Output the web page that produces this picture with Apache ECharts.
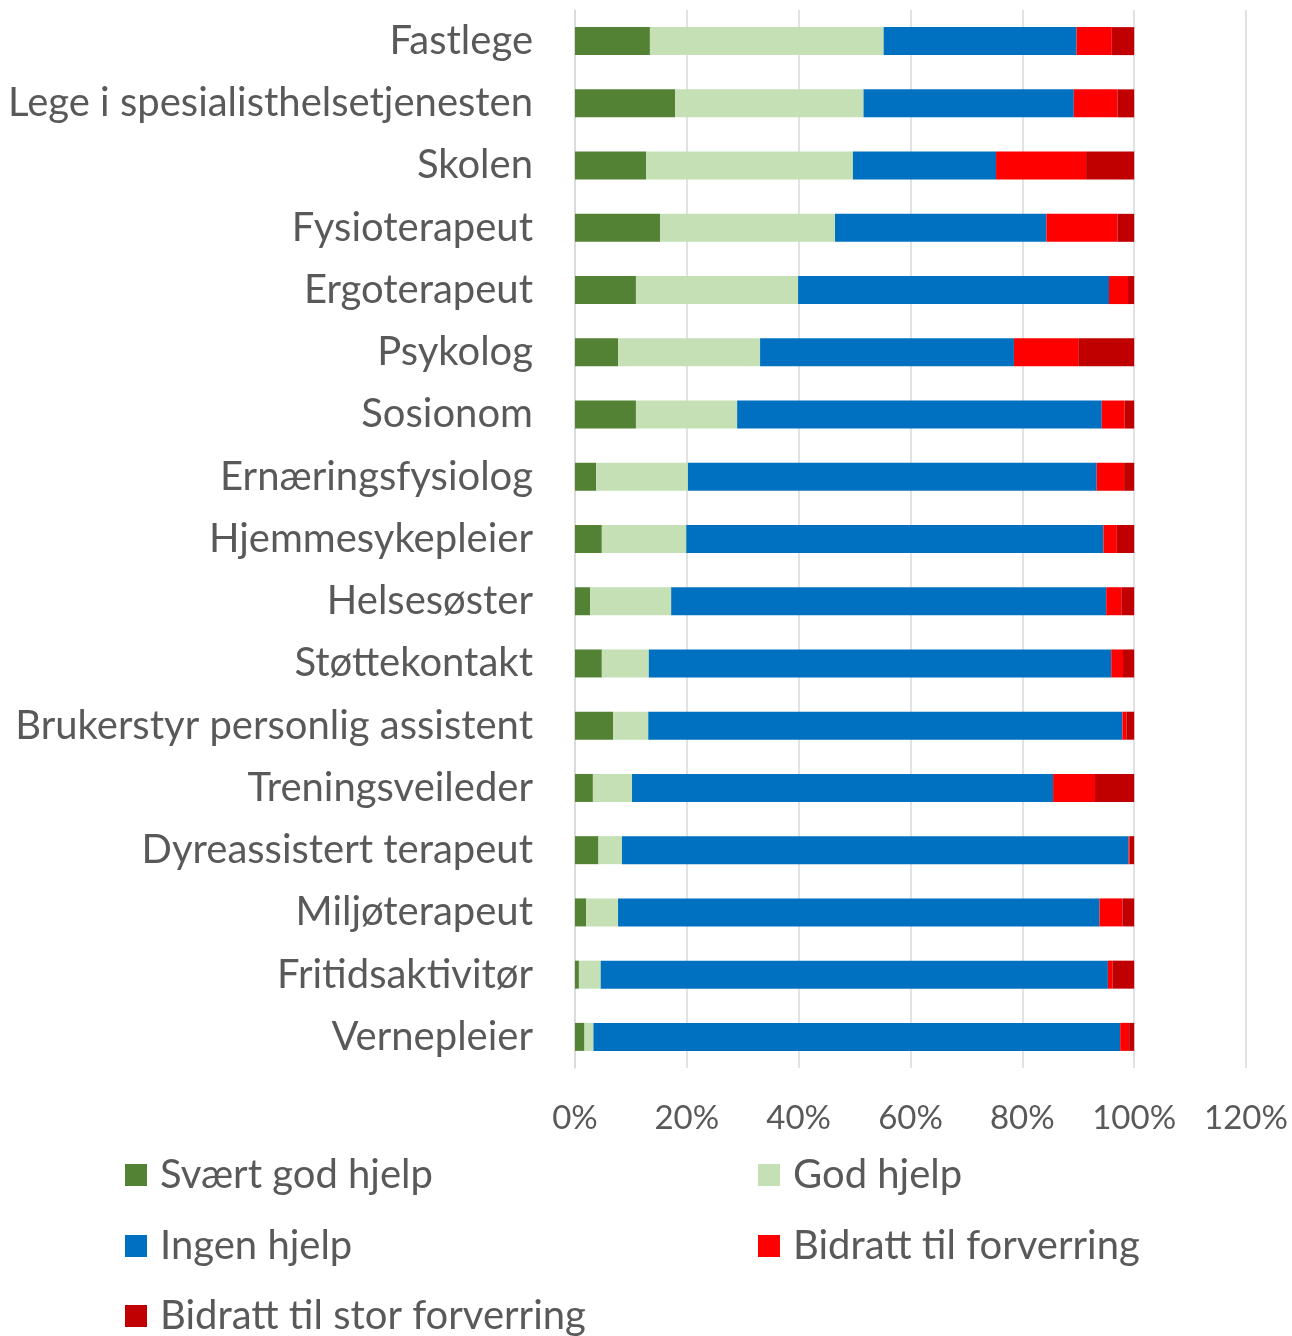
<!DOCTYPE html>
<html>
<head>
<meta charset="utf-8">
<script src="https://cdn.jsdelivr.net/npm/echarts@6/dist/echarts.min.js"></script>
<style>
html,body{margin:0;padding:0;background:#fff;}
#chart{width:1292px;height:1336px;}
</style>
</head>
<body>
<div id="chart"></div>
<script>
const categories = ["Fastlege","Lege i spesialisthelsetjenesten","Skolen","Fysioterapeut","Ergoterapeut","Psykolog","Sosionom","Ernæringsfysiolog","Hjemmesykepleier","Helsesøster","Støttekontakt","Brukerstyr personlig assistent","Treningsveileder","Dyreassistert terapeut","Miljøterapeut","Fritidsaktivitør","Vernepleier"];
const seriesNames = ["Svært god hjelp","God hjelp","Ingen hjelp","Bidratt til forverring","Bidratt til stor forverring"];
const svaertGod = [13.4,17.9,12.7,15.2,10.9,7.7,10.9,3.8,4.8,2.7,4.8,6.8,3.2,4.2,2.0,0.7,1.7];
const god       = [41.8,33.7,37.0,31.3,29.0,25.4,18.1,16.4,15.1,14.5,8.4,6.3,7.0,4.2,5.7,3.9,1.6];
const ingen     = [34.5,37.6,25.6,37.8,55.6,45.4,65.2,73.1,74.6,77.8,82.7,84.8,75.3,90.6,86.1,90.7,94.2];
const forverring= [6.3,7.8,16.1,12.7,3.4,11.5,4.1,4.9,2.4,2.7,2.1,0.7,7.5,0.2,4.1,0.8,1.6];
const storForv  = [4.0,3.0,8.6,3.0,1.1,10.0,1.7,1.8,3.1,2.3,2.0,1.4,7.0,0.8,2.1,3.9,0.9];
const xTicks = {min:0, max:120, interval:20};

const colors = ["#548235","#c5e0b4","#0070c0","#ff0000","#c00000"];
const values = [svaertGod, god, ingen, forverring, storForv];
const FONT = "Lato";
const txt = "#595959";

const chart = echarts.init(document.getElementById('chart'));
const legendText = {color: txt, fontFamily: FONT, fontSize: 40, lineHeight: 44, padding:[0,0,0,8]};
// legend item positions: [left, top] for each series
const legendPos = [[125,1153],[758,1153],[125,1224],[758,1224],[125,1294]];
chart.setOption({
  animation:false,
  color: colors,
  grid:{left:575, right:46, top:10, bottom:268, containLabel:false},
  xAxis:{
    type:'value', min:xTicks.min, max:xTicks.max, interval:xTicks.interval,
    axisLine:{show:false}, axisTick:{show:false},
    splitLine:{show:true, lineStyle:{color:'#d9d9d9', width:1.5}},
    axisLabel:{formatter:'{value}%', color:txt, fontFamily:FONT, fontSize:33, margin:34}
  },
  yAxis:{
    type:'category', data:categories, inverse:true,
    axisLine:{show:true, lineStyle:{color:'#d9d9d9', width:1.5}},
    axisTick:{show:false},
    axisLabel:{color:txt, fontFamily:FONT, fontSize:40, margin:42}
  },
  legend: seriesNames.map((n,i)=>({
    left:legendPos[i][0], top:legendPos[i][1], padding:0,
    itemWidth:22, itemHeight:22, icon:'rect',
    data:[n], textStyle:legendText
  })),
  series: seriesNames.map((n,i)=>({
    name:n, type:'bar', stack:'total', data: values[i], barWidth:28,
    itemStyle:{color:colors[i]}
  }))
});
</script>
</body>
</html>
